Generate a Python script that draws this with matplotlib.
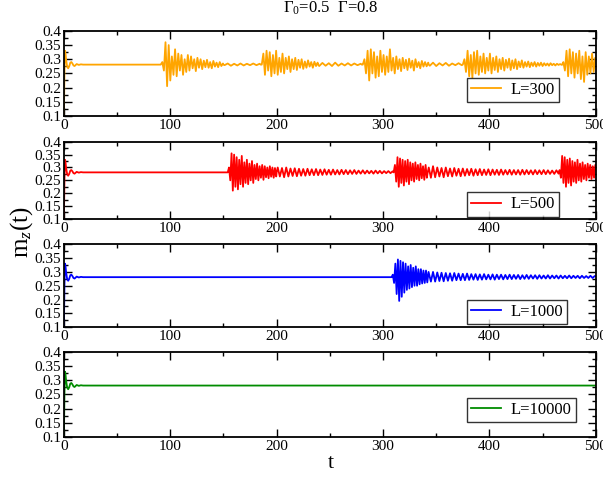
import matplotlib
matplotlib.use("Agg")
import matplotlib.pyplot as plt
from matplotlib.ticker import MultipleLocator, FormatStrFormatter
import numpy as np

plt.rcParams['font.family'] = ['Liberation Serif', 'DejaVu Serif']
plt.rcParams['mathtext.fontset'] = 'custom'
plt.rcParams['mathtext.rm'] = 'Liberation Serif'
plt.rcParams['mathtext.it'] = 'Liberation Serif:italic'

# initial transient (same for every system size)
t_start = [0, 0.5, 1, 1.5, 2, 3, 4, 5, 6, 7, 8, 9, 10, 12, 14, 16, 18, 20]
m_start = [0.10, 0.25, 0.33, 0.32, 0.30, 0.275, 0.268, 0.275, 0.288, 0.290,
           0.285, 0.278, 0.276, 0.283, 0.280, 0.282, 0.281, 0.281]
m_flat = 0.281

# segments: (first t, step in t)
L300_segments = [
    (91, 1.5, [0.281, 0.29, 0.26, 0.36, 0.205, 0.35, 0.225, 0.31, 0.245, 0.335, 0.24, 0.32, 0.26,
               0.315, 0.245, 0.30, 0.255, 0.315, 0.26, 0.31, 0.268, 0.30, 0.258, 0.305, 0.27, 0.30,
               0.265, 0.295, 0.272, 0.298, 0.27, 0.29, 0.268, 0.294, 0.274, 0.288, 0.272, 0.29, 0.276, 0.285]),
    (151, 3, [0.279, 0.285, 0.277, 0.284, 0.278, 0.285, 0.278, 0.284, 0.279, 0.285, 0.279, 0.284]),
    (186, 1.5, [0.281, 0.32, 0.245, 0.33, 0.26, 0.325, 0.24, 0.315, 0.25, 0.33, 0.245, 0.305, 0.255,
                0.32, 0.25, 0.305, 0.265, 0.31, 0.255, 0.30, 0.265, 0.305, 0.262, 0.298, 0.27, 0.30,
                0.266, 0.292, 0.27, 0.296, 0.274, 0.29, 0.27, 0.291, 0.276, 0.288]),
    (240, 3, [0.276, 0.287, 0.277, 0.286, 0.276, 0.288, 0.277, 0.285, 0.278, 0.286, 0.278, 0.285, 0.279, 0.284]),
    (281, 1.5, [0.281, 0.30, 0.25, 0.33, 0.225, 0.335, 0.25, 0.325, 0.235, 0.31, 0.24, 0.33, 0.255,
                0.315, 0.245, 0.31, 0.255, 0.335, 0.26, 0.305, 0.25, 0.31, 0.265, 0.30, 0.258, 0.305,
                0.268, 0.298, 0.262, 0.302, 0.27, 0.295, 0.26, 0.30, 0.272, 0.29, 0.268, 0.294, 0.274,
                0.29, 0.275, 0.288]),
    (344, 3, [0.277, 0.288, 0.276, 0.286, 0.278, 0.287, 0.277, 0.285, 0.279, 0.286, 0.279]),
    (375, 1.5, [0.281, 0.30, 0.255, 0.33, 0.24, 0.315, 0.235, 0.325, 0.25, 0.33, 0.245, 0.31, 0.255,
                0.32, 0.25, 0.305, 0.26, 0.32, 0.25, 0.305, 0.262, 0.31, 0.255, 0.30, 0.265, 0.305,
                0.26, 0.298, 0.27, 0.302, 0.262, 0.296, 0.268, 0.30, 0.265, 0.292, 0.272, 0.296, 0.27,
                0.29, 0.274, 0.292, 0.272, 0.288, 0.276, 0.29, 0.274, 0.287, 0.277, 0.288, 0.276, 0.286,
                0.278, 0.285, 0.277, 0.286, 0.279, 0.284, 0.278, 0.284, 0.28, 0.283, 0.28]),
    (469.5, 1.5, [0.29, 0.26, 0.33, 0.24, 0.335, 0.25, 0.325, 0.235, 0.32, 0.25, 0.33, 0.23, 0.31,
                  0.22, 0.325, 0.245, 0.31, 0.25, 0.32, 0.255, 0.305]),
]

L500_segments = [
    (154, 1.2, [0.281, 0.30, 0.25, 0.355, 0.21, 0.35, 0.225, 0.34, 0.215, 0.33, 0.235, 0.345, 0.225,
                0.32, 0.24, 0.33, 0.235, 0.315, 0.25, 0.325, 0.24, 0.31, 0.255, 0.315, 0.25, 0.305,
                0.26, 0.31, 0.252, 0.305, 0.262, 0.30, 0.258, 0.305, 0.264, 0.30, 0.26, 0.298, 0.265]),
    (201, 2, [0.30, 0.265, 0.298, 0.262, 0.30, 0.265, 0.296, 0.267, 0.297, 0.266, 0.295, 0.268, 0.294,
              0.268, 0.295, 0.27, 0.293, 0.27, 0.294, 0.27, 0.292, 0.271, 0.293, 0.272, 0.291, 0.272,
              0.292, 0.273, 0.29, 0.273, 0.291, 0.274, 0.29, 0.274, 0.289, 0.275, 0.29, 0.275, 0.288,
              0.276, 0.289, 0.276, 0.288, 0.277, 0.287, 0.276, 0.288, 0.277, 0.287, 0.277, 0.286,
              0.278, 0.286, 0.278, 0.285]),
    (310, 1.2, [0.281, 0.31, 0.245, 0.34, 0.225, 0.335, 0.24, 0.33, 0.23, 0.325, 0.245, 0.33, 0.235,
                0.32, 0.25, 0.315, 0.245, 0.32, 0.255, 0.31, 0.25, 0.315, 0.258, 0.305, 0.252, 0.31, 0.26]),
    (343, 2, [0.30, 0.26, 0.305, 0.262, 0.30, 0.265, 0.298, 0.262, 0.30, 0.266, 0.296, 0.265, 0.298,
              0.268, 0.295, 0.266, 0.296, 0.268, 0.294, 0.27, 0.295, 0.268, 0.293, 0.27, 0.294, 0.27,
              0.292, 0.271, 0.293, 0.27, 0.292, 0.272, 0.291, 0.271, 0.292, 0.272, 0.29, 0.273, 0.291,
              0.272, 0.29, 0.273, 0.29, 0.272, 0.291, 0.273, 0.29, 0.274, 0.289, 0.273, 0.29, 0.274,
              0.289, 0.274, 0.29, 0.274, 0.289, 0.275, 0.288, 0.275, 0.289, 0.276]),
    (466, 1.2, [0.29, 0.26, 0.345, 0.24, 0.34, 0.225, 0.33, 0.24, 0.335, 0.23, 0.325, 0.245, 0.32,
                0.24, 0.33, 0.25, 0.315, 0.245, 0.32, 0.255, 0.31, 0.25, 0.315, 0.26, 0.31, 0.255,
                0.305, 0.26, 0.31]),
]

L1000_segments = [
    (308, 1.2, [0.281, 0.29, 0.26, 0.33, 0.22, 0.345, 0.195, 0.34, 0.21, 0.335, 0.225, 0.33, 0.235,
                0.32, 0.24, 0.325, 0.245, 0.315, 0.25, 0.32, 0.25, 0.31, 0.255, 0.31, 0.258, 0.305,
                0.26, 0.305, 0.262, 0.30]),
    (345, 2, [0.265, 0.30, 0.265, 0.298, 0.267, 0.297, 0.266, 0.296, 0.268, 0.295, 0.268, 0.296, 0.27,
              0.294, 0.27, 0.293, 0.27, 0.294, 0.271, 0.292, 0.272, 0.292, 0.271, 0.291, 0.272, 0.292,
              0.273, 0.29, 0.273, 0.291, 0.272, 0.29, 0.274, 0.29, 0.273, 0.289, 0.274, 0.29, 0.274,
              0.289, 0.275, 0.289, 0.274, 0.288, 0.275, 0.289, 0.275, 0.288, 0.276, 0.288, 0.275,
              0.288, 0.276, 0.287, 0.276, 0.288, 0.276, 0.287, 0.277, 0.287, 0.276, 0.287, 0.277,
              0.286, 0.277, 0.287, 0.277, 0.286, 0.278, 0.286, 0.277, 0.286, 0.278, 0.285, 0.278,
              0.286, 0.278, 0.285]),
]

L10000_segments = []

sizes = ["L=300", "L=500", "L=1000", "L=10000"]
colors = ["#FFA500", "#FF0000", "#0000FF", "#008C00"]
all_segments = [L300_segments, L500_segments, L1000_segments, L10000_segments]

# axes boxes [left, bottom, width, height] in figure fractions
boxes = [[0.106, 0.758, 0.882, 0.1775],
         [0.106, 0.543, 0.882, 0.161],
         [0.106, 0.317, 0.882, 0.173],
         [0.106, 0.088, 0.882, 0.1775]]
legend_y = [0.16, 0.03, 0.035, 0.17]


def build_series(segments):
    t = list(t_start)
    m = list(m_start)
    for t0, dt, vals in segments:
        if t[-1] < t0 - 1:
            t.append(t0 - 1)
            m.append(m_flat)
        t.extend(t0 + dt * np.arange(len(vals)))
        m.extend(vals)
    if t[-1] < 500:
        t.append(500)
        m.append(m[-1] if segments else m_flat)
    return np.array(t), np.array(m)


fig = plt.figure(figsize=(6.03, 4.79), dpi=100)
for i in range(4):
    ax = fig.add_axes(boxes[i])
    t, m = build_series(all_segments[i])
    ax.plot(t, m, color=colors[i], lw=1.3, label=sizes[i])
    ax.set_xlim(0, 500)
    ax.set_ylim(0.1, 0.4)
    ax.xaxis.set_major_locator(MultipleLocator(100))
    ax.xaxis.set_minor_locator(MultipleLocator(50))
    ax.yaxis.set_major_locator(MultipleLocator(0.05))
    ax.yaxis.set_minor_locator(MultipleLocator(0.025))
    ax.yaxis.set_major_formatter(FormatStrFormatter('%g'))
    ax.tick_params(which='both', direction='in', top=True, right=True, labelsize=11, pad=2)
    ax.tick_params(which='major', length=6, width=1)
    ax.tick_params(which='minor', length=3, width=1)
    for sp in ax.spines.values():
        sp.set_linewidth(1.3)
    leg = ax.legend(loc='lower left', bbox_to_anchor=(0.757, legend_y[i]), borderaxespad=0,
                    fontsize=12, frameon=True, fancybox=False, handlelength=1.8,
                    borderpad=0.25, handletextpad=0.6)
    leg.get_frame().set_edgecolor('black')
    leg.get_frame().set_linewidth(1.0)

fig.text(0.548, 0.982, r"$\Gamma_0$=0.5  $\Gamma$=0.8", ha='center', va='center', fontsize=12)
fig.text(0.035, 0.515, r"m$_z$(t)", rotation=90, ha='center', va='center', fontsize=18)
fig.text(0.548, 0.032, "t", ha='center', va='center', fontsize=16)

fig.savefig("out.png", dpi=100)
